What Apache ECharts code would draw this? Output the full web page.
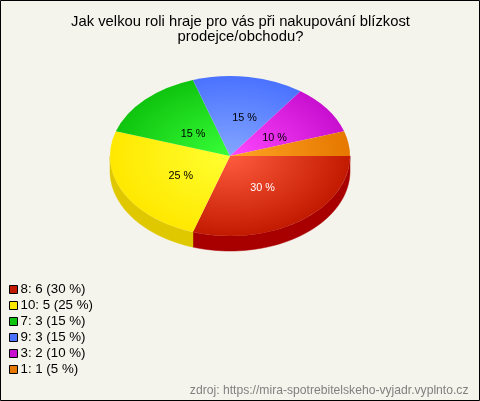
<!DOCTYPE html>
<html><head><meta charset="utf-8">
<style>html,body{margin:0;padding:0;background:#f5f4ec}#c{width:480px;height:401px}</style>
<script src="https://cdn.jsdelivr.net/npm/echarts@6/dist/echarts.min.js"></script>
</head><body><div id="c"></div>
<script>
const categories = ['8', '10', '7', '9', '3', '1'];
const counts = [6, 5, 3, 3, 2, 1];
const percents = [30, 25, 15, 15, 10, 5];
const swatch = ['#c21a00', '#ffe800', '#0fc40f', '#4a72ff', '#c80fd0', '#e67800'];
const inner = ['#ff5c3e', '#ffff30', '#38ff38', '#84a6ff', '#ff48ff', '#ffa424'];
const wall = ['#a80000', '#e0c800', '#0a9a0a', '#3a5ad0', '#a00ca8', '#b86000'];
const labelColor = ['#fff', '#000', '#000', '#000', '#000', null];

const CX = 230, CY = 156, RX = 120, RY = 80, DEPTH = 15;
const labelNudge = [[0, 0], [0, 1], [2, 2], [6, -4], [0, 2], [0, 0]];
const total = counts.reduce((a, b) => a + b, 0);
const FONT = '"Liberation Sans", Arial, sans-serif';

function renderer(idx) {
  return function (params, api) {
    const v = api.value(0);
    let before = 0;
    for (let i = 0; i < idx; i++) before += counts[i];
    const a0 = before / total * Math.PI * 2;
    const a1 = (before + v) / total * Math.PI * 2;
    const children = [];
    const w0 = a0, w1 = Math.min(a1, Math.PI);
    if (w1 > w0) {
      const top = [], bottom = [];
      const n = 48;
      for (let i = 0; i <= n; i++) {
        const t = w0 + (w1 - w0) * i / n;
        const px = CX + RX * Math.cos(t), py = CY + RY * Math.sin(t);
        top.push([px, py]);
        bottom.unshift([px, py + DEPTH]);
      }
      children.push({
        type: 'polygon', shape: { points: top.concat(bottom) },
        style: { fill: wall[idx], stroke: wall[idx], lineWidth: 0.5 }
      });
    }
    children.push({
      type: 'sector',
      shape: { cx: CX, cy: CY, r: RX, r0: 0, startAngle: a0, endAngle: a1, clockwise: true },
      originX: CX, originY: CY, scaleY: RY / RX,
      style: {
        fill: {
          type: 'radial', x: CX, y: CY, r: RX, global: true,
          colorStops: [{ offset: 0, color: inner[idx] }, { offset: 1, color: swatch[idx] }]
        }
      }
    });
    if (labelColor[idx]) {
      const m = (a0 + a1) / 2;
      children.push({
        type: 'text', z2: 10,
        style: {
          x: CX + 0.46 * RX * Math.cos(m) + labelNudge[idx][0],
          y: CY + 2 + 0.46 * RY * Math.sin(m) + labelNudge[idx][1],
          text: percents[idx] + ' %', fill: labelColor[idx],
          font: '10.8px ' + FONT, align: 'center', verticalAlign: 'middle'
        }
      });
    }
    return { type: 'group', children };
  };
}

const series = categories.map((c, i) => ({
  type: 'custom',
  coordinateSystem: 'none',
  name: c + ': ' + counts[i] + ' (' + percents[i] + ' %)',
  data: [[counts[i]]],
  itemStyle: { color: swatch[i] },
  renderItem: renderer(i),
  animation: false,
  silent: true
}));

const chart = echarts.init(document.getElementById('c'), null, { renderer: 'canvas' });
chart.setOption({
  backgroundColor: '#f5f4ec',
  animation: false,
  graphic: [{
    type: 'rect', z: -10, silent: true,
    shape: { x: 0.5, y: 0.5, width: 479, height: 400 },
    style: { fill: '#f5f4ec', stroke: '#000', lineWidth: 1 }
  }],
  title: [{
    text: 'Jak velkou roli hraje pro vás při nakupování blízkost\nprodejce/obchodu?',
    left: 235.5, top: 9, textAlign: 'center',
    textStyle: { fontFamily: FONT, fontSize: 14.8, fontWeight: 'normal', color: '#000', lineHeight: 15 }
  }, {
    text: 'zdroj: https://mira-spotrebitelskeho-vyjadr.vyplnto.cz',
    right: 6.5, top: 379,
    textStyle: { fontFamily: FONT, fontSize: 12.15, fontWeight: 'normal', color: '#808080', lineHeight: 14 }
  }],
  legend: {
    orient: 'vertical', left: 9, top: 283, padding: 0, itemGap: 3,
    itemWidth: 8, itemHeight: 8, icon: 'rect', selectedMode: false,
    itemStyle: { borderColor: '#000', borderWidth: 1 },
    textStyle: { fontFamily: FONT, fontSize: 13.3, color: '#000', padding: [0, 0, 0, -2], lineHeight: 13, height: 13 },
    data: series.map(s => s.name)
  },
  series
});
</script></body></html>
